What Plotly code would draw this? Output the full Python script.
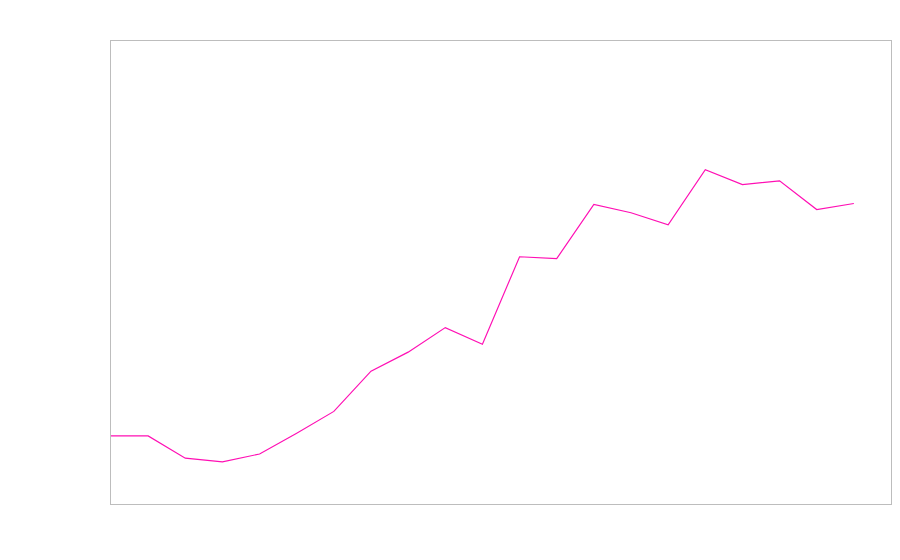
import plotly.graph_objects as go

x_index = list(range(21))
values = [14.7, 14.7, 9.9, 9.1, 10.8, 15.3, 20.0, 28.7, 32.8, 38.1, 34.5,
          53.4, 53.0, 64.7, 62.9, 60.3, 72.2, 69.0, 69.8, 63.6, 64.9]

fig = go.Figure(go.Scatter(x=x_index, y=values, mode="lines",
                           line=dict(color="#ff0fb4", width=1.2),
                           hoverinfo="skip"))

axis_style = dict(showgrid=False, zeroline=False, showticklabels=False,
                  ticks="", showline=True, mirror=True,
                  linecolor="#bdbdbd", linewidth=1)

fig.update_layout(
    width=892, height=552,
    margin=dict(l=103, r=9, t=33, b=56),
    paper_bgcolor="white", plot_bgcolor="white",
    showlegend=False,
    xaxis=dict(range=[0, 21], **axis_style),
    yaxis=dict(range=[0, 100], **axis_style),
)

fig.write_html("out.html")
